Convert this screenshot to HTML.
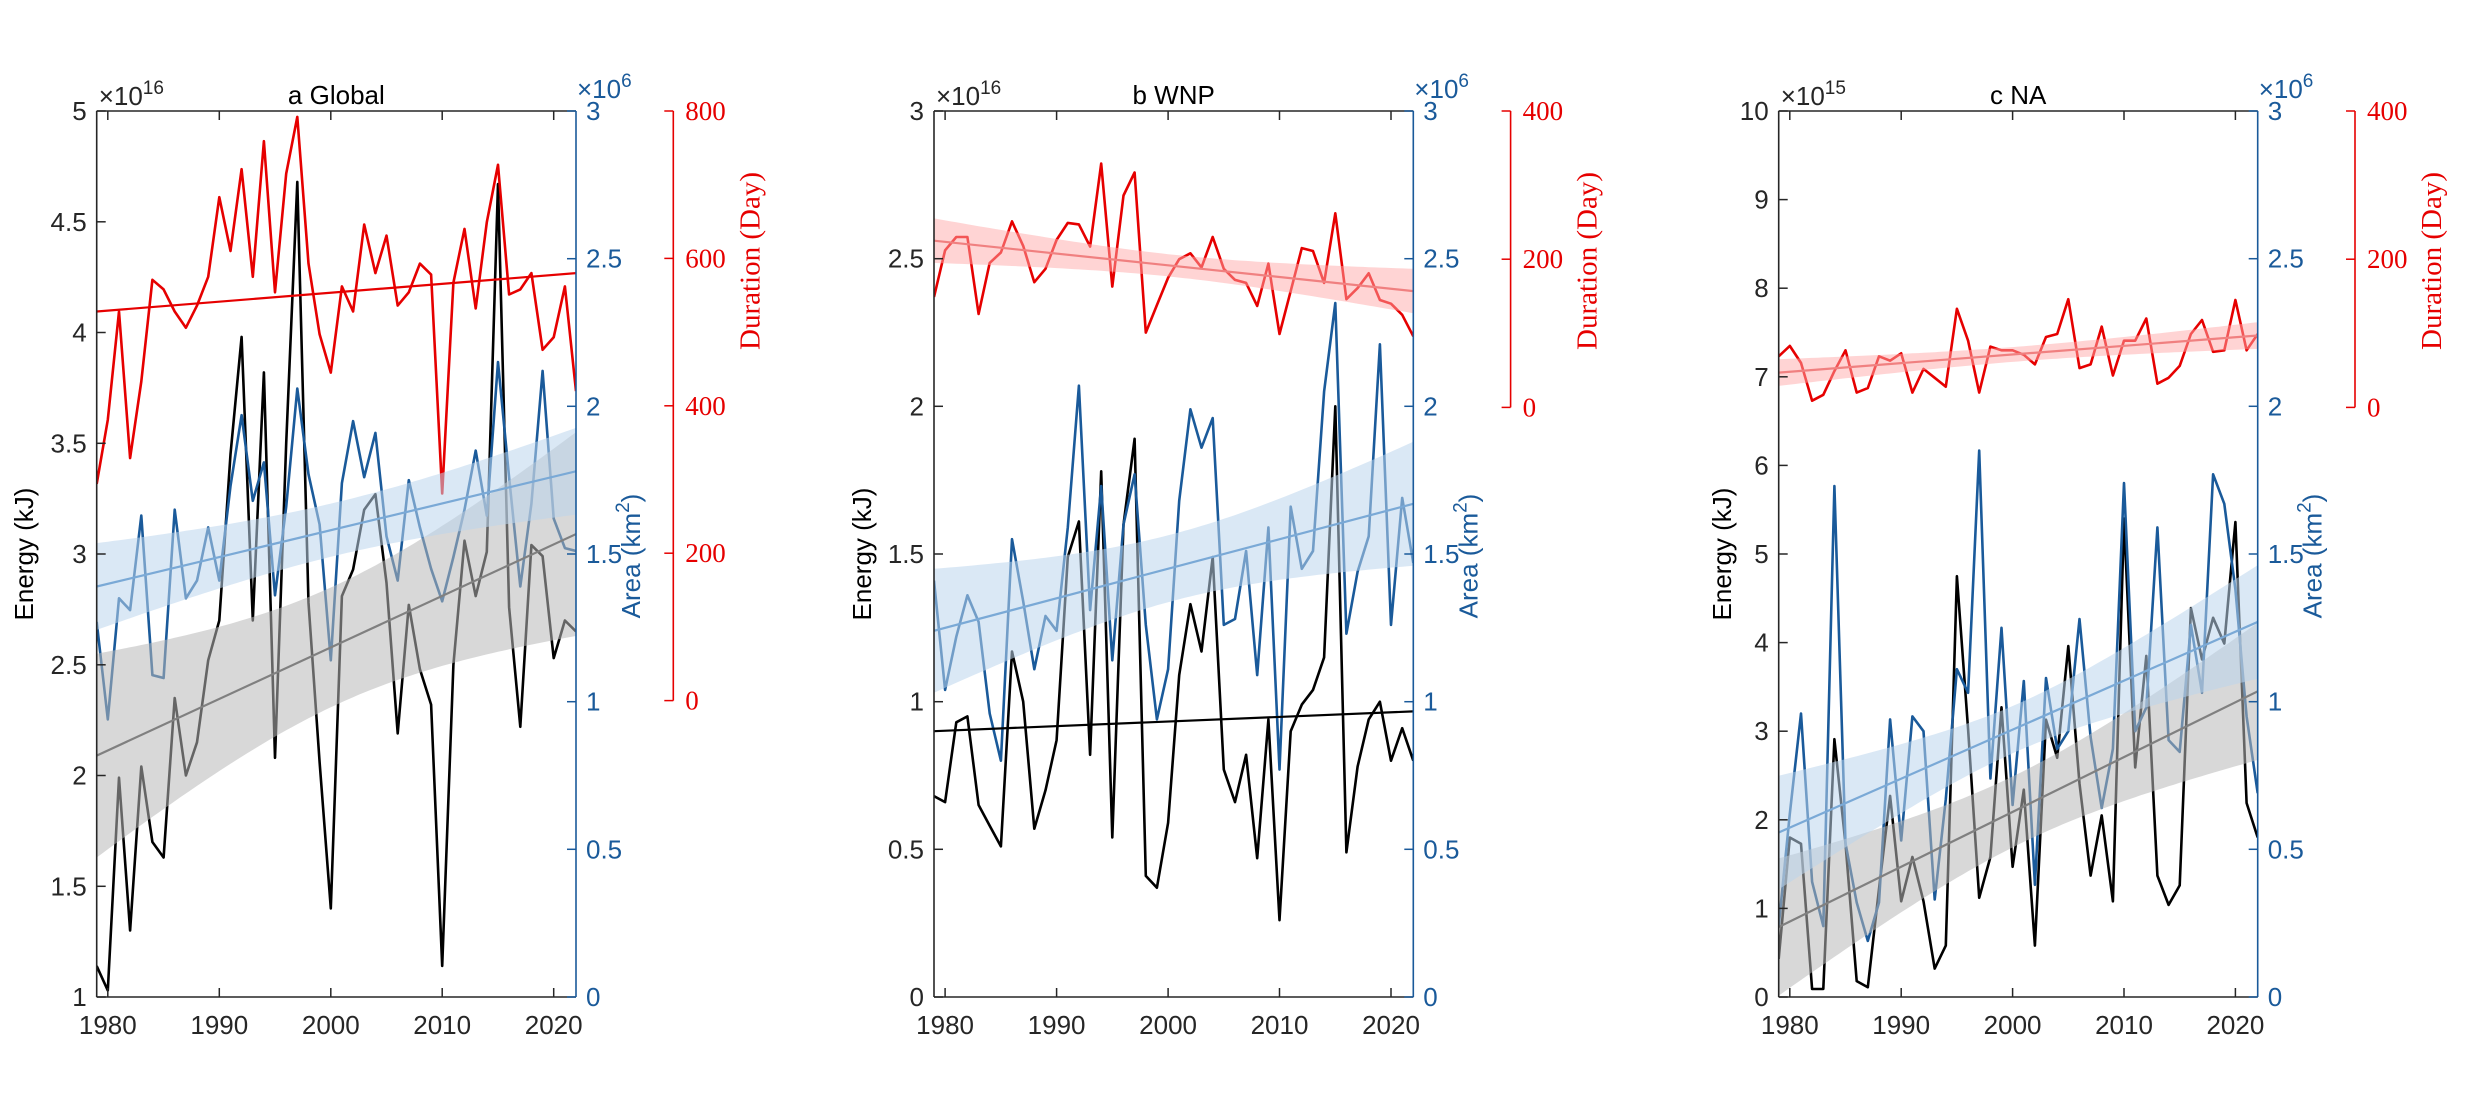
<!DOCTYPE html>
<html><head><meta charset="utf-8"><style>
html,body{margin:0;padding:0;background:#fff;}
svg{display:block;}
text{font-family:"Liberation Sans",sans-serif;}
.serif{font-family:"Liberation Serif",serif;}
</style></head><body>
<svg id="s" width="2480" height="1110" viewBox="0 0 2480 1110" xmlns="http://www.w3.org/2000/svg"></svg>
<script>
var svg=document.getElementById('s');
var out='';
var years=[];for(var y=1979;y<=2022;y++)years.push(y);
var T=111,B=997,H=B-T;
var P=[
{L:96.7,R:576,title:'a Global',eMin:1,eMax:5,eStep:0.5,exp:'16',rMax:800,rBot:700.6,elx:24,
E:[1.14,1.03,1.99,1.30,2.04,1.70,1.63,2.35,2.0,2.15,2.52,2.70,3.45,3.98,2.70,3.82,2.08,3.5,4.68,2.78,2.06,1.40,2.81,2.93,3.20,3.27,2.87,2.19,2.77,2.48,2.32,1.14,2.5,3.06,2.81,3.01,4.67,2.76,2.22,3.04,2.99,2.53,2.70,2.65],
A:[1.27,0.94,1.35,1.31,1.63,1.09,1.08,1.65,1.35,1.41,1.59,1.41,1.73,1.97,1.68,1.81,1.36,1.66,2.06,1.77,1.60,1.14,1.74,1.95,1.76,1.91,1.56,1.41,1.75,1.59,1.45,1.34,1.49,1.65,1.85,1.63,2.15,1.76,1.39,1.67,2.12,1.62,1.52,1.51],
D:[294,381,528,329,433,571,558,528,506,536,575,683,610,721,575,759,554,715,792,593,497,445,562,528,646,580,631,536,554,593,578,281,567,640,532,649,727,551,558,580,476,493,562,420],
eT:[2.09,3.09],eB:[0.073,0.0003],aT:[1.39,1.78],aB:[0.0081,0.0000292],dT:[528,580],dB:null},
{L:934,R:1413.3,title:'b WNP',eMin:0,eMax:3,eStep:0.5,exp:'16',rMax:400,rBot:407.4,elx:862,
E:[0.68,0.66,0.93,0.95,0.65,0.58,0.51,1.17,1.0,0.57,0.70,0.87,1.49,1.61,0.82,1.78,0.54,1.6,1.89,0.41,0.37,0.59,1.09,1.33,1.17,1.49,0.77,0.66,0.82,0.47,0.94,0.26,0.90,0.99,1.04,1.15,2.0,0.49,0.78,0.94,1.0,0.80,0.91,0.80],
A:[1.41,1.04,1.22,1.36,1.27,0.96,0.80,1.55,1.34,1.11,1.29,1.24,1.59,2.07,1.31,1.73,1.14,1.60,1.77,1.26,0.94,1.11,1.68,1.99,1.86,1.96,1.26,1.28,1.51,1.09,1.59,0.77,1.66,1.45,1.51,2.05,2.35,1.23,1.44,1.56,2.21,1.26,1.69,1.47],
D:[149,212,230,230,126,195,209,251,218,169,187,226,249,247,217,329,163,286,317,101,138,175,200,208,189,230,187,172,168,137,194,99,157,215,211,168,262,146,161,181,145,140,125,96],
eT:[0.90,0.967],eB:null,aT:[1.24,1.67],aB:[0.0128,0.0000675],dT:[225,157],dB:[225,1.46]},
{L:1778.7,R:2257.7,title:'c NA',eMin:0,eMax:10,eStep:1,exp:'15',rMax:400,rBot:407.4,elx:1722,
E:[0.43,1.8,1.73,0.09,0.09,2.91,1.73,0.18,0.11,1.22,2.27,1.08,1.58,1.08,0.32,0.58,4.75,3.02,1.12,1.58,3.27,1.47,2.34,0.58,3.13,2.70,3.96,2.41,1.37,2.05,1.08,5.4,2.59,3.85,1.37,1.04,1.26,4.39,3.81,4.28,3.99,5.36,2.19,1.80],
A:[0.24,0.62,0.96,0.39,0.24,1.73,0.52,0.32,0.19,0.32,0.94,0.53,0.95,0.90,0.33,0.67,1.11,1.03,1.85,0.74,1.25,0.65,1.07,0.38,1.08,0.84,0.90,1.28,0.88,0.64,0.84,1.74,0.90,0.98,1.59,0.87,0.83,1.26,1.03,1.77,1.67,1.38,0.95,0.69],
D:[69,83,60,9,17,49,77,20,26,69,63,73,20,52,40,28,133,90,20,82,77,77,71,58,95,99,146,53,58,109,43,90,90,120,32,40,56,99,118,75,77,145,77,99],
eT:[0.79,3.45],eB:[0.16,0.00095],aT:[0.557,1.27],aB:[0.0064,0.000066],dT:[47,97],dB:[100,0.485]}
];
var BLUE='#1a5a9a',RED='#e60000',TXT='#262626';
function f(v){return v.toFixed(1);}
P.forEach(function(p,pi){
  var W=p.R-p.L;
  var X=function(yr){return p.L+(yr-1979)/43*W;};
  var YE=function(v){return B-(v-p.eMin)/(p.eMax-p.eMin)*H;};
  var YA=function(v){return B-v/3*H;};
  var rH=p.rBot-T;
  var YD=function(v){return p.rBot-v/p.rMax*rH;};
  var cid='c'+pi;
  out+='<defs><clipPath id="'+cid+'"><rect x="'+p.L+'" y="'+T+'" width="'+W+'" height="'+H+'"/></clipPath></defs>';
  function poly(arr,fn,col,w){var s='';arr.forEach(function(v,i){s+=(i?'L':'M')+f(X(years[i]))+' '+f(fn(v));});
    return '<path d="'+s+'" fill="none" stroke="'+col+'" stroke-width="'+w+'" stroke-linejoin="round"/>';}
  function trend(tt,x){return tt[0]+(tt[1]-tt[0])*(x-1979)/43;}
  function band(tt,bb,fn,col,op){var up='',dn=[];for(var x=1979;x<=2022.001;x+=0.5){var m=trend(tt,x),w=Math.sqrt(bb[0]+bb[1]*(x-2000.5)*(x-2000.5));
      up+=(up?'L':'M')+f(X(x))+' '+f(fn(m+w));dn.push('L'+f(X(x))+' '+f(fn(m-w)));}
    return '<path d="'+up+dn.reverse().join('')+'Z" fill="'+col+'" fill-opacity="'+op+'" stroke="none"/>';}
  function tline(tt,fn,col,w){return '<line x1="'+p.L+'" y1="'+f(fn(tt[0]))+'" x2="'+p.R+'" y2="'+f(fn(tt[1]))+'" stroke="'+col+'" stroke-width="'+w+'"/>';}
  out+='<g clip-path="url(#'+cid+')">';
  out+=poly(p.E,YE,'#000',2.6);
  out+=poly(p.A,YA,BLUE,2.6);
  out+=poly(p.D,YD,RED,2.6);
  if(p.eB)out+=band(p.eT,p.eB,YE,'#b8b8b8',0.55);
  out+=band(p.aT,p.aB,YA,'#bcd6ec',0.55);
  if(p.dB)out+=band(p.dT,p.dB,YD,'#ffaaaa',0.5);
  out+=tline(p.eT,YE,p.eB?'#808080':'#000',2.2);
  out+=tline(p.aT,YA,'#7aa9d6',2.2);
  out+=tline(p.dT,YD,p.dB?'#f08080':RED,2.2);
  out+='</g>';
  out+='<line x1="'+p.L+'" y1="'+T+'" x2="'+p.R+'" y2="'+T+'" stroke="'+TXT+'" stroke-width="1.6"/>';
  out+='<line x1="'+p.L+'" y1="'+B+'" x2="'+p.R+'" y2="'+B+'" stroke="'+TXT+'" stroke-width="1.6"/>';
  out+='<line x1="'+p.L+'" y1="'+T+'" x2="'+p.L+'" y2="'+B+'" stroke="'+TXT+'" stroke-width="1.6"/>';
  out+='<line x1="'+p.R+'" y1="'+T+'" x2="'+p.R+'" y2="'+B+'" stroke="'+BLUE+'" stroke-width="1.6"/>';
  for(var yr=1980;yr<=2020;yr+=10){var x=X(yr);
    out+='<line x1="'+f(x)+'" y1="'+B+'" x2="'+f(x)+'" y2="'+(B-9)+'" stroke="'+TXT+'" stroke-width="1.5"/>';
    out+='<line x1="'+f(x)+'" y1="'+T+'" x2="'+f(x)+'" y2="'+(T+9)+'" stroke="'+TXT+'" stroke-width="1.5"/>';
    out+='<text x="'+f(x)+'" y="1034" font-size="26" text-anchor="middle" fill="'+TXT+'">'+yr+'</text>';}
  for(var v=p.eMin;v<=p.eMax+1e-9;v+=p.eStep){var yy=YE(v);
    out+='<line x1="'+p.L+'" y1="'+f(yy)+'" x2="'+(p.L+9)+'" y2="'+f(yy)+'" stroke="'+TXT+'" stroke-width="1.5"/>';
    out+='<text x="'+(p.L-10)+'" y="'+f(yy+9)+'" font-size="26" text-anchor="end" fill="'+TXT+'">'+(Math.round(v*10)/10)+'</text>';}
  for(var v=0;v<=3.001;v+=0.5){var yy=YA(v);
    out+='<line x1="'+p.R+'" y1="'+f(yy)+'" x2="'+(p.R-9)+'" y2="'+f(yy)+'" stroke="'+BLUE+'" stroke-width="1.5"/>';
    out+='<text x="'+(p.R+10)+'" y="'+f(yy+9)+'" font-size="26" fill="'+BLUE+'">'+(Math.round(v*10)/10)+'</text>';}
  var rx=p.R+97.3;
  out+='<line x1="'+rx+'" y1="'+T+'" x2="'+rx+'" y2="'+p.rBot+'" stroke="'+RED+'" stroke-width="1.6"/>';
  for(var v=0;v<=p.rMax;v+=200){var yy=YD(v);
    out+='<line x1="'+rx+'" y1="'+f(yy)+'" x2="'+(rx-9)+'" y2="'+f(yy)+'" stroke="'+RED+'" stroke-width="1.5"/>';
    out+='<text class="serif" x="'+(rx+12)+'" y="'+f(yy+9)+'" font-size="27" fill="'+RED+'">'+v+'</text>';}
  out+='<text x="'+((p.L+p.R)/2)+'" y="104" font-size="26" text-anchor="middle" fill="#000">'+p.title+'</text>';
  out+='<text x="'+(p.L+2)+'" y="105" font-size="26" fill="'+TXT+'">×10<tspan font-size="19" dy="-11">'+p.exp+'</tspan></text>';
  out+='<text x="'+(p.R+1)+'" y="98" font-size="26" fill="'+BLUE+'">×10<tspan font-size="19" dy="-11">6</tspan></text>';
  out+='<text transform="translate('+(p.elx+9)+',554) rotate(-90)" font-size="26" text-anchor="middle" fill="#000">Energy (kJ)</text>';
  out+='<text transform="translate('+(p.R+64)+',556) rotate(-90)" font-size="26" text-anchor="middle" fill="'+BLUE+'">Area (km<tspan font-size="19" dy="-11">2</tspan><tspan dy="11">)</tspan></text>';
  out+='<text class="serif" transform="translate('+(rx+86)+',261) rotate(-90)" font-size="29" text-anchor="middle" fill="'+RED+'">Duration (Day)</text>';
});
svg.innerHTML=out;
</script>
</body></html>
